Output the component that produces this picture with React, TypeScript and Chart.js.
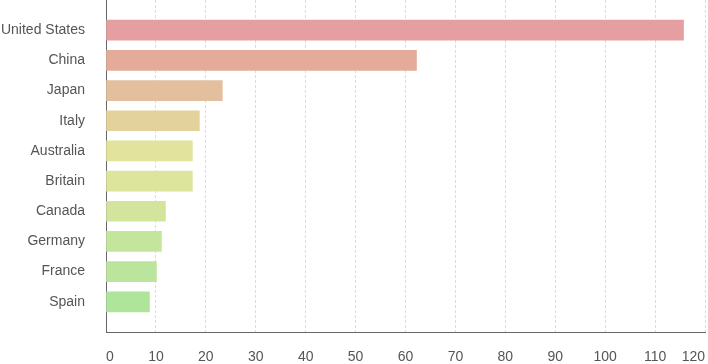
import React, { useEffect, useRef } from "react";
import { Chart, registerables } from "chart.js";

Chart.register(...registerables);

const categories = ["United States", "China", "Japan", "Italy", "Australia", "Britain", "Canada", "Germany", "France", "Spain"];
const values = [115.7, 62.2, 23.3, 18.7, 17.3, 17.3, 11.9, 11.1, 10.1, 8.7];
const barColors = ["#e69fa0", "#e5ab9a", "#e3bf9d", "#e4d29c", "#e2e39c", "#dde49c", "#d3e49c", "#c4e59c", "#bbe59c", "#aee59b"];
const xTicks = [0, 10, 20, 30, 40, 50, 60, 70, 80, 90, 100, 110, 120];

export default function App() {
  const ref = useRef<HTMLCanvasElement>(null);
  useEffect(() => {
    document.body.style.margin = "0";
    const labels = ["", ...categories, ""];
    const data = [null, ...values, null];
    const colors = ["transparent", ...barColors, "transparent"];
    const font = { family: "'Liberation Sans', Arial, Helvetica, sans-serif", size: 14 };
    const chart = new Chart(ref.current!, {
      type: "bar",
      data: {
        labels,
        datasets: [{ data, backgroundColor: colors, barThickness: 20, borderWidth: 0 }],
      },
      options: {
        indexAxis: "y",
        animation: false,
        responsive: false,
        devicePixelRatio: 1,
        layout: { padding: { left: 0, right: 3, top: 0, bottom: 0 } },
        plugins: { legend: { display: false }, tooltip: { enabled: false } },
        scales: {
          x: {
            type: "linear",
            min: xTicks[0],
            max: xTicks[xTicks.length - 1],
            afterBuildTicks: (s: any) => { s.ticks = xTicks.map((v) => ({ value: v })); },
            afterFit: (s: any) => { s.height = 32; s.paddingLeft = 0; s.paddingRight = 0; },
            ticks: { align: "inner", padding: 17, color: "#555", font },
            grid: {
              drawTicks: false,
              color: (ctx: any) => (ctx.tick && ctx.tick.value === 0 ? "rgba(0,0,0,0)" : "#dcdcdc"),
              lineWidth: 1,
            },
            border: { display: true, color: "#666", width: 1, dash: [3, 2] },
          },
          y: {
            type: "category",
            offset: false,
            afterFit: (s: any) => { s.width = 106; s.paddingTop = 0; s.paddingBottom = 0; },
            ticks: { padding: 21, color: "#555", font, autoSkip: false },
            grid: { display: false, drawTicks: false },
            border: { display: true, color: "#666", width: 1 },
          },
        },
      },
    });
    return () => chart.destroy();
  }, []);
  return <canvas ref={ref} width={708} height={364} style={{ display: "block" }} />;
}
